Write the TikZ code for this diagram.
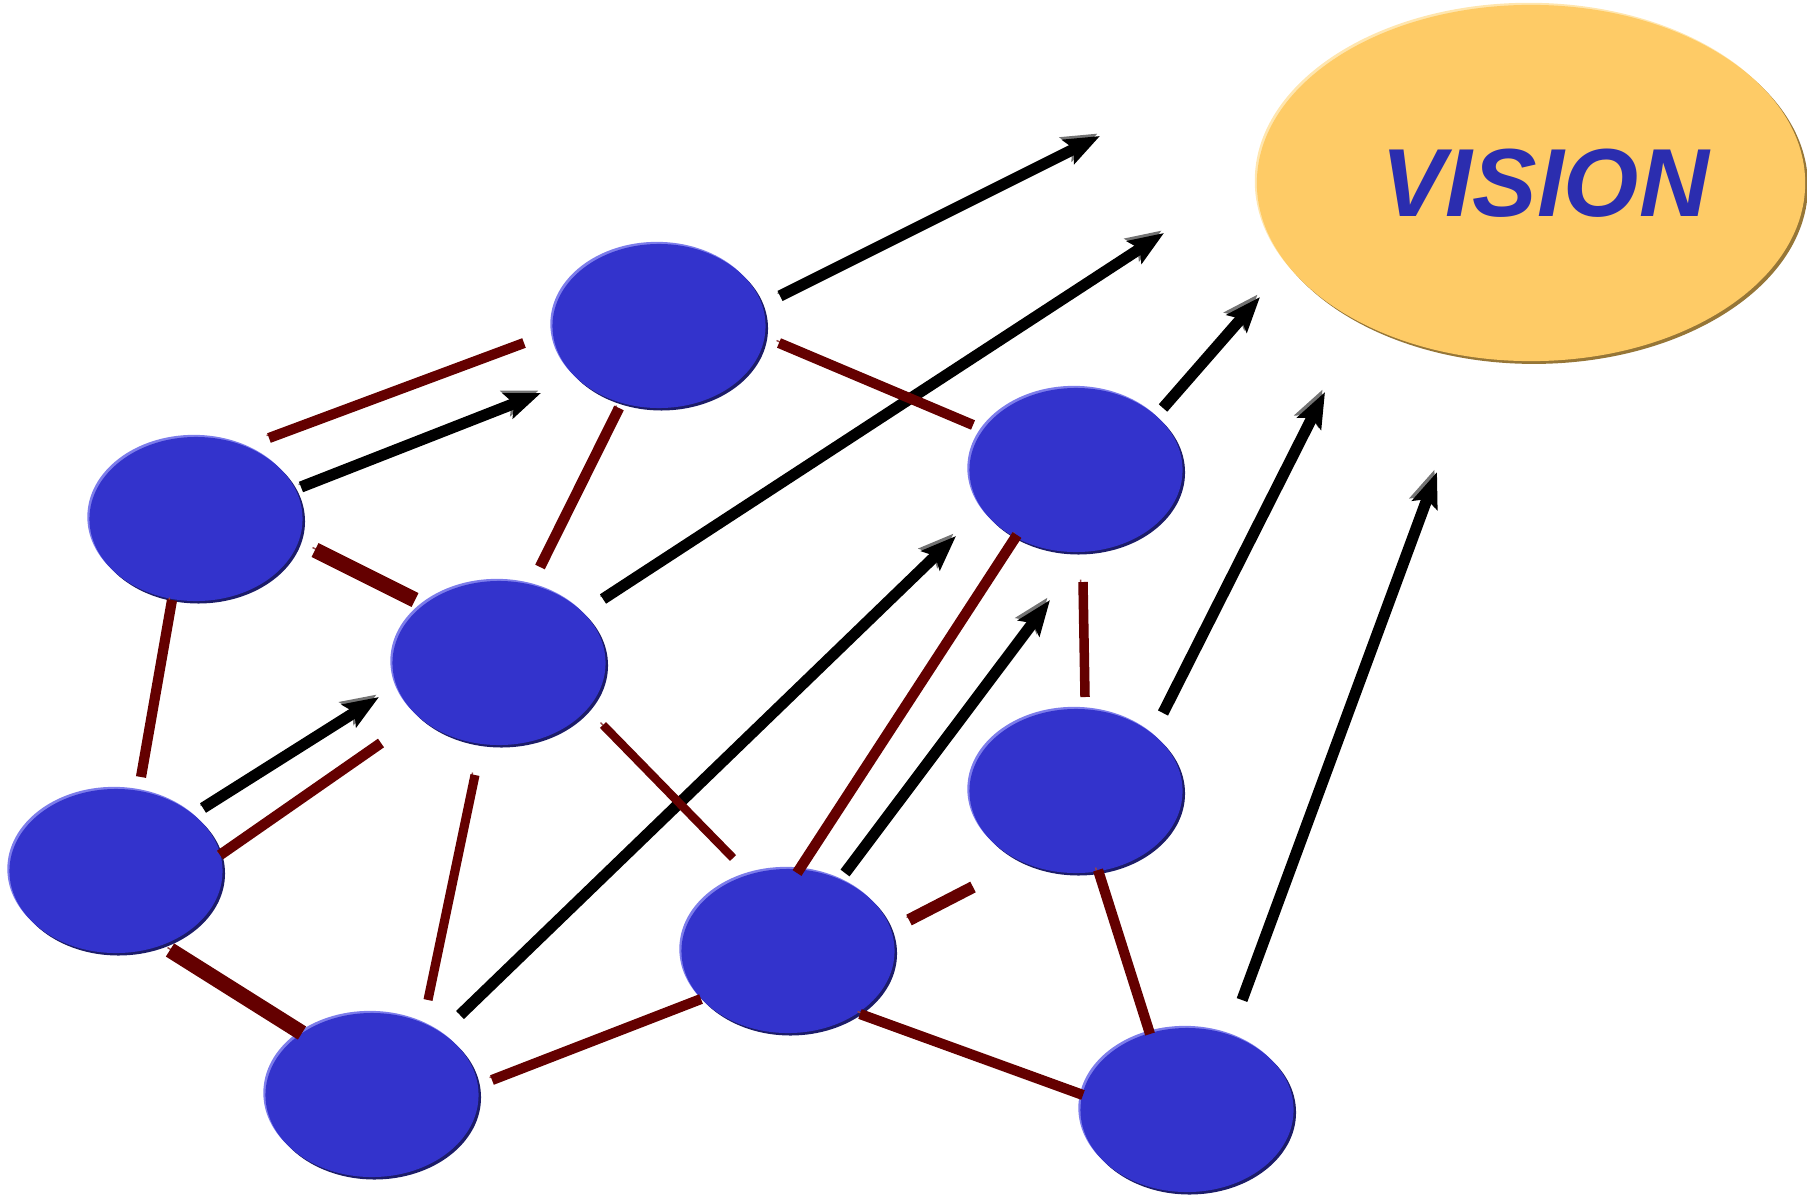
\documentclass[tikz,border=0pt]{standalone}
\usepackage{fontspec}
\setmainfont{Liberation Sans}
\usetikzlibrary{arrows.meta,shapes.geometric,shadows,calc}
\definecolor{netblue}{RGB}{51,51,204}
\definecolor{netbluehi}{RGB}{125,125,235}
\definecolor{netbluelo}{RGB}{28,28,105}
\definecolor{linkred}{RGB}{100,0,0}
\definecolor{linkredhi}{RGB}{150,70,70}
\definecolor{flowhi}{RGB}{115,115,115}
\definecolor{goalfill}{RGB}{254,203,102}
\definecolor{goalhi}{RGB}{255,230,175}
\definecolor{goallo}{RGB}{150,118,55}
\definecolor{goaltext}{RGB}{43,45,175}

\begin{document}
\begin{tikzpicture}[
  x=0.01cm,y=-0.01cm,
  blob/.style={ellipse,fill=netblue,minimum width=2.13cm,minimum height=1.64cm,inner sep=0pt,
    general shadow={shadow xshift=-0.6pt,shadow yshift=0.6pt,fill=netbluehi},
    general shadow={shadow xshift=0.7pt,shadow yshift=-0.7pt,fill=netbluelo}},
  goal/.style={ellipse,fill=goalfill,minimum width=5.48cm,minimum height=3.56cm,inner sep=0pt,
    text=goaltext,font=\fontsize{27.5}{30}\selectfont\bfseries\itshape,
    general shadow={shadow xshift=-0.6pt,shadow yshift=0.6pt,fill=goalhi},
    general shadow={shadow xshift=0.8pt,shadow yshift=-0.8pt,fill=goallo}},
  link/.style={draw=linkred,line width=2.9pt,
    preaction={draw=linkredhi,transform canvas={shift={(-0.7pt,0.7pt)}}}},
  flow/.style={-{Stealth[length=10pt,width=7.5pt,inset=1.8pt]},draw=black,line width=3.2pt,
    preaction={draw=flowhi,transform canvas={shift={(-0.7pt,0.7pt)}}}}
]
\useasboundingbox (0,0) rectangle (1807,1194);

\node[goal] (vision) at (1531,183) {\hspace*{0.28cm}VISION};

\node[blob] (n-top) at (659,326) {};
\node[blob] (n-left) at (196,519) {};
\node[blob] (n-mid) at (499,663) {};
\node[blob] (n-upright) at (1076,470) {};
\node[blob] (n-right) at (1076,791) {};
\node[blob] (n-farleft) at (116,871) {};
\node[blob] (n-lowleft) at (372,1095) {};
\node[blob] (n-lowmid) at (788,951) {};
\node[blob] (n-lowright) at (1187,1110) {};

\coordinate (aim-a) at (1100,136);
\coordinate (aim-b) at (1164,233);
\coordinate (aim-c) at (1260,297);
\coordinate (aim-d) at (1050,600);
\coordinate (aim-e) at (1325,392);
\coordinate (aim-f) at (1437,472);

\draw[flow] ($(n-top)+(121,-30)$) -- (aim-a);
\draw[flow] ($(n-mid)+(104,-64)$) -- (aim-b);
\draw[flow] ($(n-upright)+(87,-62)$) -- (aim-c);
\draw[flow] ($(n-left)+(105,-32)$) -- ($(n-top)+(-118,67)$);
\draw[flow] ($(n-farleft)+(87,-63)$) -- ($(n-mid)+(-120,34)$);
\draw[flow] ($(n-lowleft)+(88,-80)$) -- ($(n-upright)+(-120,66)$);
\draw[flow] ($(n-lowmid)+(57,-78)$) -- (aim-d);
\draw[flow] ($(n-right)+(87,-78)$) -- (aim-e);
\draw[flow] ($(n-lowright)+(55,-110)$) -- (aim-f);

\draw[link] ($(n-left)+(73,-81)$) -- ($(n-top)+(-135,17)$);
\draw[link] ($(n-top)+(120,17)$) -- ($(n-upright)+(-103,-45)$);
\draw[link,line width=3pt] ($(n-top)+(-40,82)$) -- ($(n-mid)+(41,-96)$);
\draw[link,line width=4.4pt] ($(n-left)+(119,31)$) -- ($(n-mid)+(-84,-63)$);
\draw[link] ($(n-left)+(-24,81)$) -- ($(n-farleft)+(25,-94)$);
\draw[link,line width=3pt] ($(n-farleft)+(104,-16)$) -- ($(n-mid)+(-118,80)$);
\draw[link,line width=2.6pt] ($(n-mid)+(-24,112)$) -- ($(n-lowleft)+(56,-95)$);
\draw[link,line width=2.4pt] ($(n-mid)+(104,62)$) -- ($(n-lowmid)+(-55,-93)$);
\draw[link,line width=3pt] ($(n-upright)+(-59,65)$) -- ($(n-lowmid)+(9,-78)$);
\draw[link,line width=2.7pt] ($(n-upright)+(7,112)$) -- ($(n-right)+(9,-94)$);
\draw[link,line width=3.4pt] ($(n-lowmid)+(121,-31)$) -- ($(n-right)+(-103,96)$);
\draw[link,line width=4.4pt] ($(n-farleft)+(54,79)$) -- ($(n-lowleft)+(-70,-62)$);
\draw[link] ($(n-lowleft)+(120,-15)$) -- ($(n-lowmid)+(-87,48)$);
\draw[link] ($(n-lowmid)+(72,63)$) -- ($(n-lowright)+(-104,-15)$);
\draw[link] ($(n-right)+(22,79)$) -- ($(n-lowright)+(-37,-76)$);
\end{tikzpicture}
\end{document}
